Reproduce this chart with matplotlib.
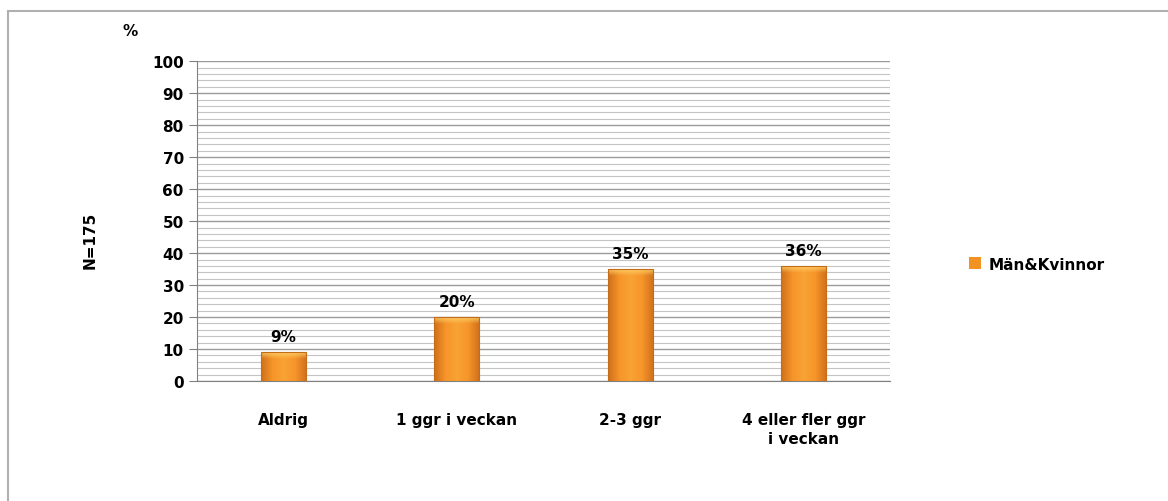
import numpy as np
import matplotlib.pyplot as plt
from matplotlib.patches import Rectangle
from matplotlib.colors import LinearSegmentedColormap

categories = ["Aldrig", "1 ggr i veckan", "2-3 ggr", "4 eller fler ggr\ni veckan"]
values = [9, 20, 35, 36]
value_labels = ["9%", "20%", "35%", "36%"]
series_name = "Män&Kvinnor"
sample_note = "N=175"

bar_color = "#F39222"
edge_color = "#C46C18"

fig = plt.figure(figsize=(11.68, 5.02), dpi=100)
ax = fig.add_axes([0.1687, 0.239, 0.5933, 0.637])

# outer chart frame
fig.patches.append(Rectangle((8 / 1168, -0.1), 1.2, (502 - 12) / 502 + 0.1,
                             transform=fig.transFigure, fill=False,
                             edgecolor="#b0b0b0", linewidth=1.5))

x = np.arange(len(categories))
bars = ax.bar(x, values, width=0.26, color=bar_color, linewidth=0,
              zorder=3, label=series_name)

# shaded fill: darker sides, brighter middle, soft light rim at the top
shade = LinearSegmentedColormap.from_list(
    "shade", ["#D0701A", "#F6952A", "#F9A235", "#F6952A", "#D0701A"])
grad = np.linspace(0, 1, 64)[None, :]
rim = np.zeros((20, 1, 4))
rim[..., 0], rim[..., 1], rim[..., 2] = 1.0, 0.85, 0.45
rim[:, 0, 3] = np.linspace(0.9, 0.0, 20)
for b in bars:
    x0, w, h = b.get_x(), b.get_width(), b.get_height()
    im = ax.imshow(grad, cmap=shade, aspect="auto", zorder=3.5,
                   extent=(x0, x0 + w, 0, h))
    im.set_clip_path(b)
    hi = ax.imshow(rim, aspect="auto", zorder=3.6,
                   extent=(x0, x0 + w, h - 2.2, h))
    hi.set_clip_path(b)
ax.bar(x, values, width=0.26, fill=False, edgecolor=edge_color,
       linewidth=0.8, zorder=3.7)

ax.set_xlim(-0.5, len(categories) - 0.5)

for xi, v, lab in zip(x, values, value_labels):
    ax.text(xi, v + 2.5, lab, ha="center", va="bottom", fontsize=11,
            fontweight="heavy")

ax.set_ylim(0, 100)
ax.set_yticks(np.arange(0, 101, 10))
ax.set_yticks(np.arange(0, 101, 2), minor=True)
ax.grid(axis="y", which="major", color="#9a9a9a", linewidth=1.0, zorder=0)
ax.grid(axis="y", which="minor", color="#c4c4c4", linewidth=0.8, zorder=0)
ax.tick_params(axis="y", which="minor", length=0)
ax.tick_params(axis="y", which="major", length=6, color="#808080", labelsize=11)
ax.tick_params(axis="x", length=0, labelsize=11, pad=22)
ax.set_xticks(x)
ax.set_xticklabels(categories, fontweight="heavy", linespacing=1.4)
for t in ax.get_yticklabels():
    t.set_fontweight("heavy")

for s in ["top", "right"]:
    ax.spines[s].set_visible(False)
ax.spines["left"].set_color("#808080")
ax.spines["bottom"].set_color("#808080")

fig.text(90 / 1168, 1 - 240 / 502, sample_note, rotation=90, ha="center",
         va="center", fontsize=11, fontweight="heavy")
fig.text(130 / 1168, 1 - 32 / 502, "%", ha="center", va="center",
         fontsize=11, fontweight="heavy")

fig.legend(handles=[bars[0]], labels=[series_name],
           loc="center left", bbox_to_anchor=(955 / 1168, 1 - 265 / 502),
           frameon=False, handlelength=0.8, handleheight=0.8,
           handletextpad=0.5, prop={"weight": "heavy", "size": 11})

fig.savefig("out.png", dpi=100)
